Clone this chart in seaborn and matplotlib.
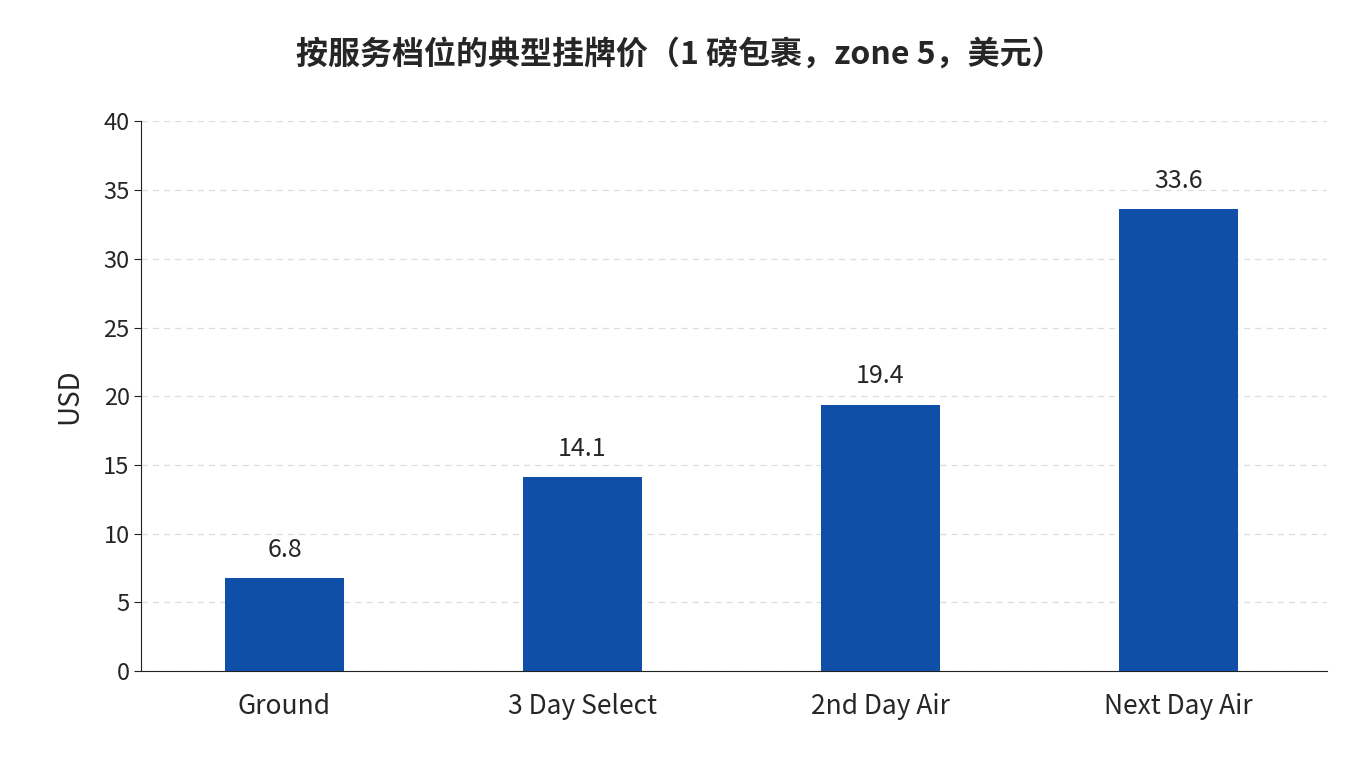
import matplotlib
matplotlib.use("Agg")
import matplotlib.pyplot as plt
import seaborn as sns
import pandas as pd

categories = ["Ground", "3 Day Select", "2nd Day Air", "Next Day Air"]
values = [6.8, 14.1, 19.4, 33.6]
labels = ["6.8", "14.1", "19.4", "33.6"]

sns.set_style("white")
plt.rcParams['font.family'] = ['Noto Sans CJK SC', 'DejaVu Sans']

df = pd.DataFrame({"service": categories, "usd": values})
fig = plt.figure(figsize=(13.6, 7.68), dpi=100)
ax = fig.add_axes([0.104, 0.126, 0.872, 0.716])
sns.barplot(data=df, x="service", y="usd", color="#0F4FA8", width=0.4, saturation=1,
            linewidth=0, ax=ax, zorder=3)
ax.set_xlim(-0.48, 3.5)
ax.set_ylim(0, 40)
ax.set_yticks(range(0, 41, 5))
ax.yaxis.grid(True, linestyle=(0, (5, 4)), color="#dddddd", linewidth=0.9, zorder=0)
ax.set_axisbelow(True)
for s in ["top", "right"]:
    ax.spines[s].set_visible(False)
for s in ["left", "bottom"]:
    ax.spines[s].set_color("#222222")
ax.tick_params(axis="y", left=True, length=5, labelsize=17, color="#222222")
ax.tick_params(axis="x", bottom=False, labelsize=19, pad=12)
ax.set_xlabel("")
ax.set_ylabel("USD", fontsize=20, labelpad=14)
for i, (v, t) in enumerate(zip(values, labels)):
    ax.text(i, v + 1.1, t, ha="center", va="bottom", fontsize=18)
fig.suptitle("按服务档位的典型挂牌价（1 磅包裹，zone 5，美元）", fontsize=23, fontweight="bold", y=0.95)
fig.savefig("out.png", dpi=100)
